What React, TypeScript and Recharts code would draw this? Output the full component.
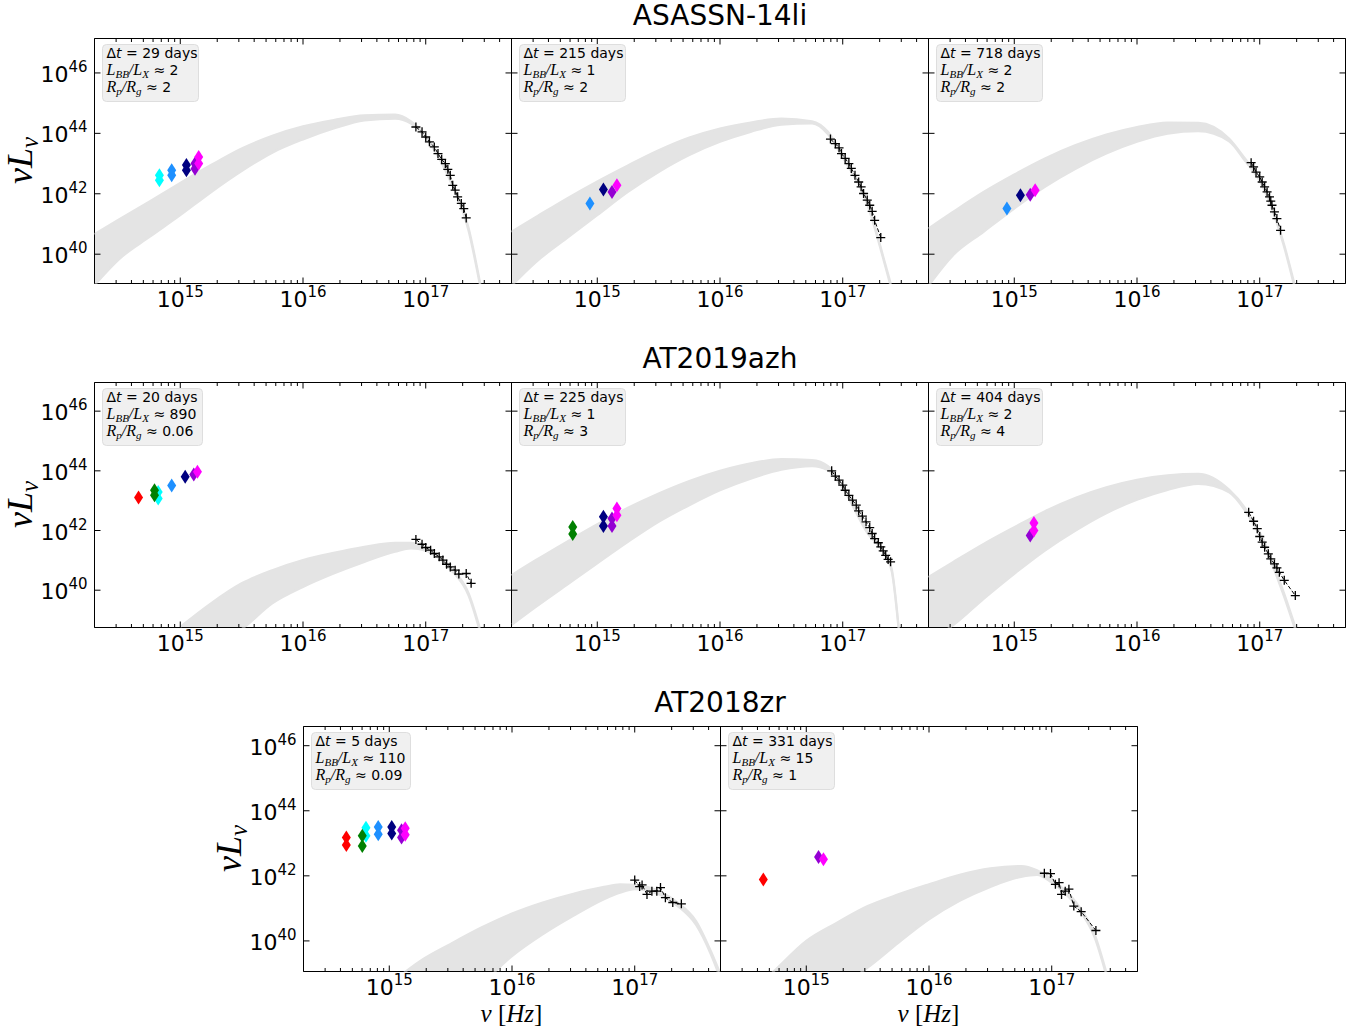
import React from "react";
import { ComposedChart, XAxis, YAxis, Area, Line, Scatter, ReferenceArea } from "recharts";

// all values are log10: nu in Hz, nu*L_nu in erg/s
// band = model envelope, lower and upper edge on its own nu grid
// xray = [nu, L] pairs, uv = [filter, nu, L]

// ASASSN-14li, dt = 29 d
const a29Nu = [14.3, 14.5, 14.75, 15.0, 15.25, 15.5, 15.75, 16.0, 16.25, 16.5, 16.75, 16.88, 17.0, 17.2, 17.35, 17.45];
const a29Lo = [38.97, 39.83, 40.57, 41.29, 42.05, 42.75, 43.36, 43.8, 44.16, 44.43, 44.49, 44.32, 43.84, 42.42, 40.76, 38.8];
const a29Hi = [40.66, 41.15, 41.75, 42.36, 42.95, 43.5, 43.92, 44.23, 44.44, 44.6, 44.62, 44.4, 43.92, 42.5, 40.86, 38.9];
const a29X = [[16.92, 44.21], [16.97, 44.05], [17.0, 43.88], [17.03, 43.72], [17.07, 43.55], [17.1, 43.33], [17.13, 43.14], [17.16, 43.0], [17.18, 42.81], [17.2, 42.61], [17.22, 42.28], [17.24, 42.12], [17.26, 41.9], [17.29, 41.68], [17.31, 41.51], [17.33, 41.2]];
const a29UV = [["B", 14.83, 42.61], ["B", 14.83, 42.45], ["U", 14.93, 42.78], ["U", 14.93, 42.61], ["UVW1", 15.05, 42.95], ["UVW1", 15.05, 42.78], ["UVM2", 15.12, 43.0], ["UVM2", 15.12, 42.83], ["UVW2", 15.15, 43.22], ["UVW2", 15.15, 43.0]];

// ASASSN-14li, dt = 215 d
const a215Nu = [14.3, 14.5, 14.75, 15.0, 15.25, 15.5, 15.75, 16.0, 16.25, 16.5, 16.75, 16.88, 17.0, 17.2, 17.35, 17.4];
const a215Lo = [38.95, 39.74, 40.52, 41.29, 42.06, 42.72, 43.28, 43.72, 44.05, 44.29, 44.33, 43.97, 43.2, 41.65, 39.55, 38.8];
const a215Hi = [40.74, 41.23, 41.84, 42.41, 42.94, 43.44, 43.86, 44.16, 44.36, 44.49, 44.4, 44.05, 43.28, 41.73, 39.63, 38.9];
const a215X = [[16.9, 43.81], [16.94, 43.66], [16.97, 43.52], [16.99, 43.33], [17.02, 43.17], [17.05, 43.0], [17.07, 42.84], [17.1, 42.61], [17.13, 42.39], [17.15, 42.23], [17.17, 42.01], [17.2, 41.79], [17.22, 41.62], [17.24, 41.42], [17.26, 41.12], [17.31, 40.55]];
const a215UV = [["U", 14.94, 41.68], ["UVW1", 15.05, 42.14], ["UVM2", 15.12, 42.06], ["UVW2", 15.16, 42.28]];

// ASASSN-14li, dt = 718 d
const a718Nu = [14.3, 14.5, 14.75, 15.0, 15.25, 15.5, 15.75, 16.0, 16.25, 16.5, 16.75, 16.88, 17.0, 17.2, 17.29];
const a718Lo = [38.95, 39.96, 40.74, 41.51, 42.23, 42.83, 43.33, 43.72, 43.99, 44.07, 43.74, 43.09, 42.42, 40.22, 38.8];
const a718Hi = [40.85, 41.4, 42.06, 42.64, 43.17, 43.61, 43.96, 44.21, 44.36, 44.35, 43.83, 43.17, 42.5, 40.3, 38.9];
const a718X = [[16.93, 43.03], [16.95, 42.89], [16.97, 42.72], [17.0, 42.56], [17.02, 42.39], [17.04, 42.23], [17.06, 42.06], [17.08, 41.9], [17.09, 41.76], [17.1, 41.62], [17.12, 41.4], [17.14, 41.18], [17.17, 40.79]];
const a718UV = [["U", 14.94, 41.51], ["UVW1", 15.05, 41.95], ["UVM2", 15.13, 41.97], ["UVW2", 15.17, 42.12]];

// AT2019azh, dt = 20 d
const z20Nu = [15.0, 15.25, 15.5, 15.75, 16.0, 16.25, 16.5, 16.75, 16.88, 17.0, 17.2, 17.35, 17.45];
const z20Lo = [37.5, 38.2, 38.7, 39.56, 40.11, 40.56, 40.95, 41.29, 41.4, 41.32, 40.7, 39.81, 38.5];
const z20Hi = [38.77, 39.56, 40.23, 40.67, 41.01, 41.25, 41.45, 41.59, 41.59, 41.4, 40.78, 39.89, 38.6];
const z20X = [[16.92, 41.7], [16.97, 41.54], [17.0, 41.43], [17.04, 41.34], [17.07, 41.23], [17.11, 41.12], [17.14, 41.01], [17.17, 40.87], [17.2, 40.78], [17.24, 40.67], [17.27, 40.54], [17.33, 40.56], [17.37, 40.23]];
const z20UV = [["r", 14.66, 43.11], ["g", 14.79, 43.35], ["g", 14.79, 43.18], ["B", 14.82, 43.29], ["B", 14.82, 43.07], ["U", 14.93, 43.51], ["UVW1", 15.04, 43.8], ["UVM2", 15.11, 43.88], ["UVW2", 15.14, 43.97]];

// AT2019azh, dt = 225 d
const z225Nu = [14.3, 14.5, 14.75, 15.0, 15.25, 15.5, 15.75, 16.0, 16.25, 16.5, 16.75, 16.88, 17.0, 17.2, 17.35, 17.4, 17.46];
const z225Lo = [38.83, 39.44, 40.17, 40.9, 41.62, 42.29, 42.85, 43.35, 43.74, 44.04, 44.16, 44.02, 43.41, 41.92, 41.12, 40.62, 38.5];
const z225Hi = [40.5, 41.01, 41.62, 42.21, 42.76, 43.24, 43.66, 44.0, 44.25, 44.39, 44.36, 44.16, 43.49, 42.01, 41.2, 40.7, 38.6];
const z225X = [[16.91, 44.0], [16.94, 43.82], [16.97, 43.69], [17.0, 43.52], [17.02, 43.35], [17.05, 43.18], [17.08, 43.02], [17.11, 42.85], [17.13, 42.66], [17.16, 42.48], [17.19, 42.29], [17.22, 42.1], [17.24, 41.9], [17.26, 41.73], [17.29, 41.59], [17.31, 41.45], [17.33, 41.32], [17.35, 41.17], [17.37, 41.03], [17.39, 40.95]];
const z225UV = [["g", 14.8, 42.12], ["g", 14.8, 41.88], ["UVW1", 15.05, 42.46], ["UVW1", 15.05, 42.15], ["UVM2", 15.12, 42.4], ["UVM2", 15.12, 42.15], ["UVW2", 15.16, 42.74], ["UVW2", 15.16, 42.51]];

// AT2019azh, dt = 404 d
const z404Nu = [14.3, 14.5, 14.75, 15.0, 15.25, 15.5, 15.75, 16.0, 16.25, 16.5, 16.75, 16.88, 17.0, 17.2, 17.3];
const z404Lo = [38.32, 38.82, 39.71, 40.55, 41.33, 42.0, 42.58, 43.03, 43.36, 43.56, 43.28, 42.67, 41.83, 39.77, 38.54];
const z404Hi = [40.44, 40.94, 41.55, 42.11, 42.65, 43.1, 43.45, 43.7, 43.85, 43.9, 43.37, 42.76, 41.94, 39.88, 38.65];
const z404X = [[16.91, 42.61], [16.95, 42.31], [16.98, 42.06], [17.0, 41.8], [17.02, 41.61], [17.04, 41.44], [17.07, 41.22], [17.09, 41.05], [17.12, 40.88], [17.14, 40.75], [17.16, 40.6], [17.2, 40.33], [17.29, 39.82]];
const z404UV = [["UVM2", 15.13, 41.83], ["UVW2", 15.16, 42.25], ["UVW2", 15.16, 42.0]];

// AT2018zr, dt = 5 d
const r5Nu = [15.0, 15.25, 15.5, 15.75, 16.0, 16.25, 16.5, 16.75, 16.88, 17.0, 17.2, 17.35, 17.5, 17.62, 17.7];
const r5Lo = [36.5, 37.2, 37.84, 38.66, 39.53, 40.2, 40.77, 41.28, 41.48, 41.59, 41.43, 41.07, 40.49, 39.59, 38.82];
const r5Hi = [38.66, 39.38, 39.91, 40.41, 40.84, 41.18, 41.45, 41.66, 41.74, 41.72, 41.53, 41.18, 40.61, 39.69, 38.97];
const r5X = [[17.0, 41.87], [17.04, 41.67], [17.06, 41.72], [17.1, 41.43], [17.14, 41.53], [17.18, 41.53], [17.21, 41.64], [17.25, 41.33], [17.31, 41.18], [17.38, 41.14]];
const r5UV = [["r", 14.65, 43.18], ["r", 14.65, 42.95], ["g", 14.78, 43.23], ["g", 14.78, 42.92], ["B", 14.81, 43.48], ["B", 14.81, 43.23], ["U", 14.91, 43.5], ["U", 14.91, 43.28], ["UVW1", 15.02, 43.5], ["UVW1", 15.02, 43.3], ["UVM2", 15.1, 43.4], ["UVM2", 15.1, 43.18], ["UVW2", 15.13, 43.46], ["UVW2", 15.13, 43.26]];

// AT2018zr, dt = 331 d
const r331Nu = [14.5, 14.75, 15.0, 15.25, 15.5, 15.75, 16.0, 16.25, 16.5, 16.75, 16.88, 17.0, 17.2, 17.35, 17.45];
const r331Lo = [37.2, 37.8, 38.3, 38.56, 39.18, 39.94, 40.66, 41.23, 41.66, 41.97, 42.03, 41.79, 41.07, 40.1, 38.87];
const r331Hi = [38.25, 39.12, 40.0, 40.56, 41.07, 41.43, 41.74, 42.03, 42.23, 42.3, 42.17, 41.89, 41.18, 40.2, 38.97];
const r331X = [[16.94, 42.08], [16.99, 42.07], [17.03, 41.74], [17.06, 41.79], [17.08, 41.43], [17.11, 41.53], [17.14, 41.59], [17.18, 41.07], [17.24, 40.9], [17.36, 40.32]];
const r331UV = [["r", 14.65, 41.89], ["UVM2", 15.1, 42.58], ["UVW2", 15.14, 42.51]];

const titles = ["ASASSN-14li", "AT2019azh", "AT2018zr"];

const panels = [
  { row: 0, col: 0, dt: "29", lbb: "2", rp: "2", nu: a29Nu, lo: a29Lo, hi: a29Hi, xray: a29X, uv: a29UV },
  { row: 0, col: 1, dt: "215", lbb: "1", rp: "2", nu: a215Nu, lo: a215Lo, hi: a215Hi, xray: a215X, uv: a215UV },
  { row: 0, col: 2, dt: "718", lbb: "2", rp: "2", nu: a718Nu, lo: a718Lo, hi: a718Hi, xray: a718X, uv: a718UV },
  { row: 1, col: 0, dt: "20", lbb: "890", rp: "0.06", nu: z20Nu, lo: z20Lo, hi: z20Hi, xray: z20X, uv: z20UV },
  { row: 1, col: 1, dt: "225", lbb: "1", rp: "3", nu: z225Nu, lo: z225Lo, hi: z225Hi, xray: z225X, uv: z225UV },
  { row: 1, col: 2, dt: "404", lbb: "2", rp: "4", nu: z404Nu, lo: z404Lo, hi: z404Hi, xray: z404X, uv: z404UV },
  { row: 2, col: 0, dt: "5", lbb: "110", rp: "0.09", nu: r5Nu, lo: r5Lo, hi: r5Hi, xray: r5X, uv: r5UV },
  { row: 2, col: 1, dt: "331", lbb: "15", rp: "1", nu: r331Nu, lo: r331Lo, hi: r331Hi, xray: r331X, uv: r331UV },
];

// axis limits (log10) per row, shared x range
const Y_LIMITS = [[39.03, 47.14], [38.75, 46.96], [39.06, 46.59]];
const X_DOMAIN = [2e14, 5e17];
const X_MAJOR = [1e15, 1e16, 1e17];
const Y_TICKS = [1e40, 1e42, 1e44, 1e46];

// layout
const PW = 417;
const PH = 245;
const ML = 90.5;
const MT = 10.5;
const MR = 9.5;
const MB = 39.5;
const X_AXIS_H = 30;
const Y_AXIS_W = 60;
const ROW_TOP = [38, 382, 726];
const COL_LEFT = [[94, 511, 928], [94, 511, 928], [303, 720]];
const LEGEND_W = [96, 106, 106, 100, 106, 106, 99, 106];

const FILTER_ORDER = ["B", "U", "UVW1", "UVM2", "UVW2", "g", "r"];
const FILTER_COLOR: Record<string, string> = {
  r: "#ff0000",
  g: "#008000",
  B: "#00ffff",
  U: "#1e90ff",
  UVW1: "#000080",
  UVM2: "#9400d3",
  UVW2: "#ff00ff",
};
const BAND_GREY = "#e4e4e4";

const SANS = "'DejaVu Sans', sans-serif";
const MATH = "'Liberation Serif', 'DejaVu Serif', serif";

const X_TICKS: number[] = [];
for (let e = 14; e <= 17; e++) {
  for (let m = 1; m <= 9; m++) {
    const v = m * 10 ** e;
    if (v >= X_DOMAIN[0] && v <= X_DOMAIN[1]) X_TICKS.push(v);
  }
}

const XTick = (props: any) => {
  const { x, y, payload } = props;
  const major = X_MAJOR.includes(payload.value);
  const len = major ? 6 : 3.5;
  const exp = Math.round(Math.log10(payload.value));
  return (
    <g>
      <line x1={x} x2={x} y1={y} y2={y - len} stroke="#000" strokeWidth={1} />
      <line x1={x} x2={x} y1={y - PH} y2={y - PH + len} stroke="#000" strokeWidth={1} />
      {major && (
        <text x={x} y={y + 23} textAnchor="middle" fontFamily={SANS} fontSize={22} fill="#000">
          10
          <tspan dy={-10} fontSize={15}>
            {exp}
          </tspan>
        </text>
      )}
    </g>
  );
};

const YTick = (props: any) => {
  const { x, y, payload, showLabel } = props;
  const exp = Math.round(Math.log10(payload.value));
  return (
    <g>
      <line x1={x} x2={x + 6} y1={y} y2={y} stroke="#000" strokeWidth={1} />
      <line x1={x + PW} x2={x + PW - 6} y1={y} y2={y} stroke="#000" strokeWidth={1} />
      {showLabel && (
        <text x={x - 7} y={y + 9} textAnchor="end" fontFamily={SANS} fontSize={22} fill="#000">
          10
          <tspan dy={-10} fontSize={15}>
            {exp}
          </tspan>
        </text>
      )}
    </g>
  );
};

const Diamond = (props: any) => {
  const { cx, cy, fill } = props;
  return <polygon points={`${cx},${cy - 7} ${cx + 4.5},${cy} ${cx},${cy + 7} ${cx - 4.5},${cy}`} fill={fill} />;
};

const PlusDot = (props: any) => {
  const { cx, cy } = props;
  return (
    <g>
      <line x1={cx - 4.5} x2={cx + 4.5} y1={cy} y2={cy} stroke="#000" strokeWidth={1.3} />
      <line x1={cx} x2={cx} y1={cy - 4.5} y2={cy + 4.5} stroke="#000" strokeWidth={1.3} />
    </g>
  );
};

const Panel = ({ p }: { p: any }) => {
  const [yLo, yHi] = Y_LIMITS[p.row];
  const yDomain = [10 ** yLo, 10 ** yHi];
  const left = COL_LEFT[p.row][p.col];
  const top = ROW_TOP[p.row];
  const bandData = p.nu.map((n: number, i: number) => ({
    x: 10 ** n,
    band: [10 ** p.lo[i], 10 ** p.hi[i]],
    lo: 10 ** p.lo[i],
    hi: 10 ** p.hi[i],
  }));
  const xrayData = p.xray.map(([n, l]: number[]) => ({ x: 10 ** n, y: 10 ** l }));
  return (
    <div style={{ position: "absolute", left: left - ML, top: top - MT }}>
      <ComposedChart
        width={ML + PW + MR}
        height={MT + PH + MB}
        margin={{ top: MT, right: MR, bottom: MB - X_AXIS_H, left: ML - Y_AXIS_W }}
      >
        <XAxis
          dataKey="x"
          type="number"
          scale="log"
          domain={X_DOMAIN}
          allowDataOverflow
          ticks={X_TICKS}
          interval={0}
          height={X_AXIS_H}
          tickSize={0}
          tickMargin={0}
          axisLine={false}
          tickLine={false}
          tick={(t: any) => <XTick {...t} />}
        />
        <YAxis
          dataKey="y"
          type="number"
          scale="log"
          domain={yDomain}
          allowDataOverflow
          ticks={Y_TICKS}
          interval={0}
          width={Y_AXIS_W}
          tickSize={0}
          tickMargin={0}
          axisLine={false}
          tickLine={false}
          tick={(t: any) => <YTick {...t} showLabel={p.col === 0} />}
        />
        <Area
          data={bandData}
          dataKey="band"
          type="monotone"
          fill={BAND_GREY}
          fillOpacity={1}
          stroke="none"
          isAnimationActive={false}
        />
        <Line data={bandData} dataKey="hi" type="monotone" stroke={BAND_GREY} strokeWidth={2.2} dot={false} activeDot={false} isAnimationActive={false} />
        <Line data={bandData} dataKey="lo" type="monotone" stroke={BAND_GREY} strokeWidth={2.2} dot={false} activeDot={false} isAnimationActive={false} />
        {FILTER_ORDER.map((f) => {
          const pts = p.uv.filter((u: any[]) => u[0] === f);
          if (!pts.length) return null;
          return (
            <Scatter
              key={f}
              data={pts.map((u: any[]) => ({ x: 10 ** u[1], y: 10 ** u[2] }))}
              fill={FILTER_COLOR[f]}
              shape={(s: any) => <Diamond {...s} fill={FILTER_COLOR[f]} />}
              isAnimationActive={false}
            />
          );
        })}
        <Line
          data={xrayData}
          dataKey="y"
          type="linear"
          stroke="#000"
          strokeWidth={1}
          strokeDasharray="4 2"
          dot={(d: any) => <PlusDot key={d.index} cx={d.cx} cy={d.cy} />}
          activeDot={false}
          isAnimationActive={false}
        />
        <ReferenceArea
          x1={X_DOMAIN[0]}
          x2={X_DOMAIN[1]}
          y1={yDomain[0]}
          y2={yDomain[1]}
          fill="none"
          stroke="#000"
          strokeWidth={1}
          ifOverflow="visible"
        />
      </ComposedChart>
    </div>
  );
};

const LegendBox = ({ p, w }: { p: any; w: number }) => {
  const x0 = COL_LEFT[p.row][p.col] + 0.5;
  const y0 = ROW_TOP[p.row] + 0.5;
  const tx = x0 + 12;
  return (
    <g style={{ whiteSpace: "pre" }}>
      <rect x={x0 + 8} y={y0 + 6} width={w} height={57} rx={4} fill="#f0f0f0" stroke="#dedede" />
      <text x={tx} y={y0 + 19} fontFamily={SANS} fontSize={14} fill="#000">
        Δ<tspan fontStyle="italic">t</tspan>
        {` = ${p.dt} days`}
      </text>
      <text x={tx} y={y0 + 36} fontSize={16} fill="#000">
        <tspan fontFamily={MATH} fontStyle="italic">L</tspan>
        <tspan fontFamily={MATH} fontStyle="italic" fontSize={11} dy={3}>BB</tspan>
        <tspan fontFamily={MATH} fontStyle="italic" dy={-3}>/L</tspan>
        <tspan fontFamily={MATH} fontStyle="italic" fontSize={11} dy={3}>X</tspan>
        <tspan fontFamily={SANS} fontSize={14} dy={-3}>{` ≈ ${p.lbb}`}</tspan>
      </text>
      <text x={tx} y={y0 + 53} fontSize={16} fill="#000">
        <tspan fontFamily={MATH} fontStyle="italic">R</tspan>
        <tspan fontFamily={MATH} fontStyle="italic" fontSize={11} dy={3}>p</tspan>
        <tspan fontFamily={MATH} fontStyle="italic" dy={-3}>/R</tspan>
        <tspan fontFamily={MATH} fontStyle="italic" fontSize={11} dy={3}>g</tspan>
        <tspan fontFamily={SANS} fontSize={14} dy={-3}>{` ≈  ${p.rp}`}</tspan>
      </text>
    </g>
  );
};

const YLabel = ({ x, y }: { x: number; y: number }) => (
  <text
    transform={`translate(${x},${y}) rotate(-90)`}
    textAnchor="middle"
    fontFamily={MATH}
    fontStyle="italic"
    fontSize={36}
    fill="#000"
  >
    νL
    <tspan fontSize={25} dy={6}>
      ν
    </tspan>
  </text>
);

const XLabel = ({ x, y }: { x: number; y: number }) => (
  <text x={x} y={y} textAnchor="middle" fontFamily={MATH} fontSize={25} fill="#000" style={{ whiteSpace: "pre" }}>
    <tspan fontStyle="italic">ν</tspan> [<tspan fontStyle="italic">Hz</tspan>]
  </text>
);

export default function App() {
  return (
    <div style={{ position: "absolute", left: 0, top: 0, width: 1364, height: 1029, background: "#fff" }}>
      {panels.map((p, i) => (
        <Panel key={i} p={p} />
      ))}
      <svg width={1364} height={1029} style={{ position: "absolute", left: 0, top: 0, pointerEvents: "none" }}>
        {titles.map((t, i) => (
          <text key={t} x={720} y={[25, 368, 712][i]} textAnchor="middle" fontFamily={SANS} fontSize={28} fill="#000">
            {t}
          </text>
        ))}
        {panels.map((p, i) => (
          <LegendBox key={i} p={p} w={LEGEND_W[i]} />
        ))}
        {ROW_TOP.map((t, r) => (
          <YLabel key={r} x={COL_LEFT[r][0] - 62} y={t + PH / 2} />
        ))}
        {COL_LEFT[2].map((l, c) => (
          <XLabel key={c} x={l + PW / 2} y={1022} />
        ))}
      </svg>
    </div>
  );
}
